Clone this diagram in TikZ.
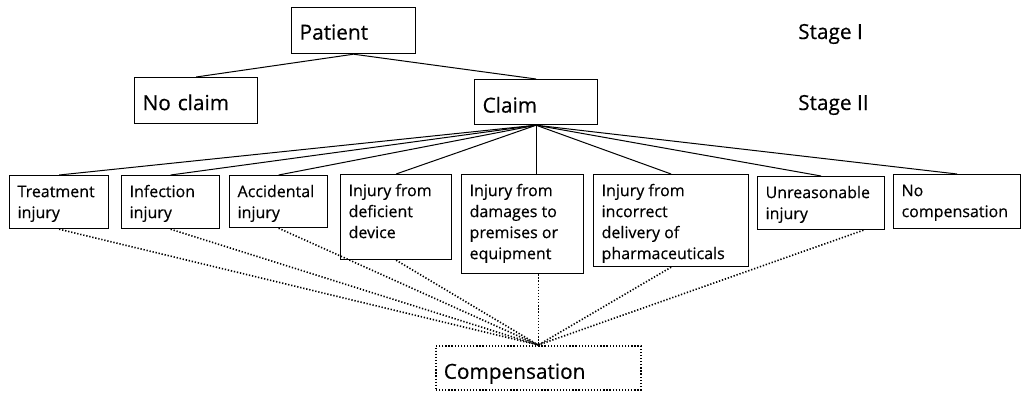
\documentclass[tikz,border=0pt]{standalone}
\usepackage{fontspec}
\setmainfont[FakeBold=0.4]{Open Sans}
\usetikzlibrary{calc}
\newcommand\btxt[3]{\parbox[c][#2][t]{#1}{\raggedright\vspace*{6.8pt}\strut #3}}
\begin{document}
\begin{tikzpicture}[x=1pt,y=-1pt,
  topbox/.style={draw, line width=1.2pt, anchor=north west, inner xsep=8pt, inner ysep=0pt,
     align=left, font=\fontsize{20.8}{25}\selectfont, text depth=4pt},
  botbox/.style={draw, line width=1.2pt, anchor=north west, inner xsep=8pt, inner ysep=0pt,
     font=\fontsize{16}{21}\selectfont},
  stage/.style={anchor=base west, inner sep=0pt, font=\fontsize{20.8}{25}\selectfont},
  conn/.style={line width=1pt},
  dots/.style={line width=1.6pt, dash pattern=on 1.3pt off 1.8pt}]
\useasboundingbox (0,0) rectangle (1028,392);
% top level
\node[topbox, text width=108pt, minimum height=46pt, text height=22pt] (patient) at (291,7) {Patient};
\node[topbox, text width=107pt, minimum height=46pt, text height=23pt] (noclaim) at (134,77) {No claim};
\node[topbox, text width=107pt, minimum height=45pt, text height=25pt] (claim) at (474,79) {Claim};
\node[stage] (s1) at (798,39) {Stage I};
\node[stage] (s2) at (798,110) {Stage II};
% categories
\node[botbox] (treat) at (9,175) {\btxt{83pt}{53pt}{Treatment\\injury}};
\node[botbox] (infect) at (121,175) {\btxt{82pt}{53pt}{Infection\\injury}};
\node[botbox] (accid) at (229,175) {\btxt{82pt}{52pt}{Accidental\\injury}};
\node[botbox] (defic) at (340,174) {\btxt{95pt}{85pt}{Injury from\\deficient\\device}};
\node[botbox] (damag) at (461,174) {\btxt{106pt}{99pt}{Injury from\\damages to\\premises or\\equipment}};
\node[botbox] (incor) at (593,174) {\btxt{139pt}{92pt}{Injury from\\incorrect\\delivery of\\pharmaceuticals}};
\node[botbox] (unrea) at (757,176) {\btxt{111pt}{53pt}{Unreasonable\\injury}};
\node[botbox] (nocomp) at (893,174) {\btxt{111pt}{54pt}{No\\compensation}};
% compensation
\node[topbox, dots, text width=189pt, minimum height=44pt, text height=26pt] (comp) at (435,345) {Compensation};
% solid connectors
\draw[conn] (patient.south) -- (noclaim.north);
\draw[conn] (patient.south) -- (claim.north);
\foreach \b in {treat,infect,accid,defic,incor,unrea,nocomp}
  \draw[conn] (claim.south) -- (\b.north);
\draw[conn] (claim.south) -- (claim.south |- damag.north);
% dotted connectors
\foreach \b in {treat,infect,accid,defic,incor}
  \draw[dots] (\b.south) -- (comp.north);
\draw[dots] (comp.north |- damag.south) -- (comp.north);
\draw[dots] ($(unrea.south west)!0.83!(unrea.south east)$) -- (comp.north);
\end{tikzpicture}
\end{document}
